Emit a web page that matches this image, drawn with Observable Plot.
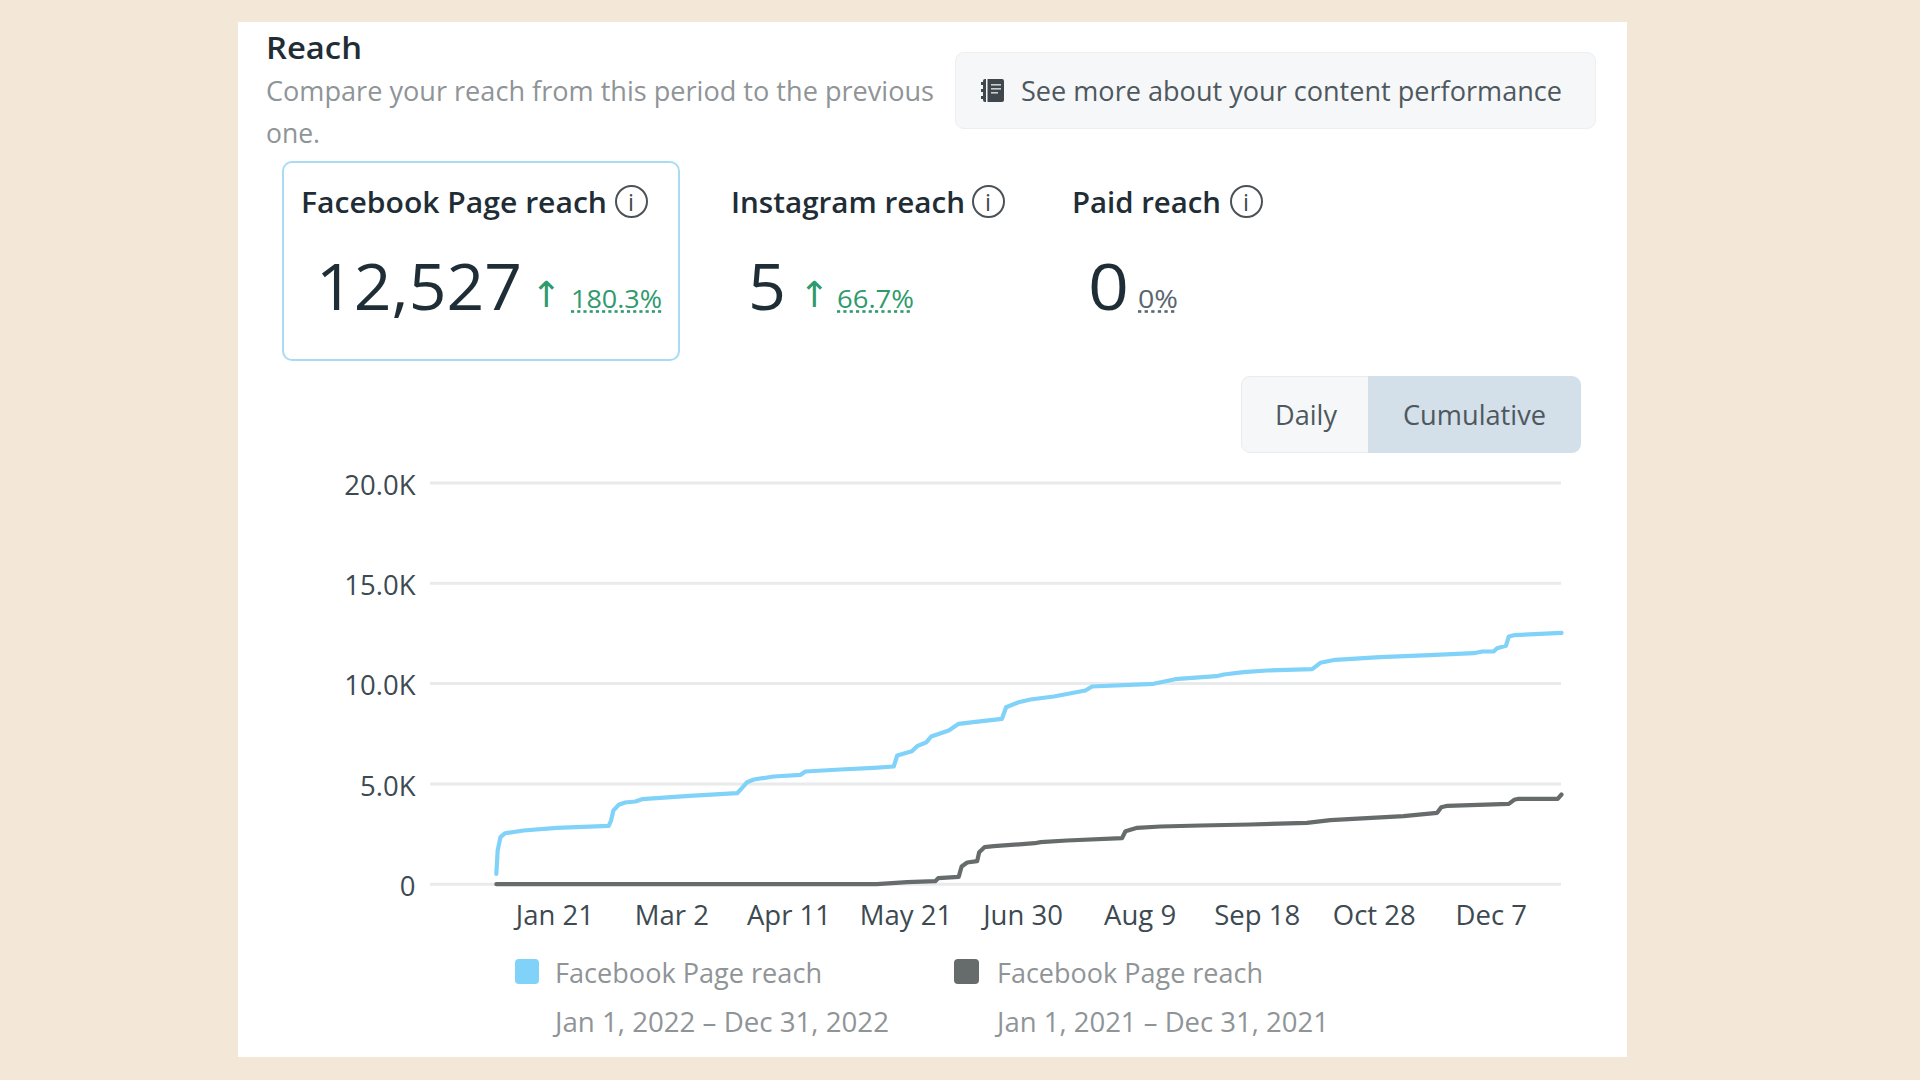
<!DOCTYPE html>
<html>
<head>
<meta charset="utf-8">
<script src="https://cdn.jsdelivr.net/npm/d3@7"></script>
<script src="https://cdn.jsdelivr.net/npm/@observablehq/plot@0.6"></script>
<style>
html,body{margin:0;padding:0;width:1920px;height:1080px;overflow:hidden;background:#f3e7d8;font-family:"Open Sans",sans-serif;}
#card{position:absolute;left:238px;top:22px;width:1389px;height:1035px;background:#fff;}
.box{position:absolute;box-sizing:border-box;}
.t{position:absolute;white-space:nowrap;transform-origin:left center;line-height:1;}
#chart{position:absolute;left:238px;top:460px;}
#chart svg{display:block;background:transparent;}
</style>
</head>
<body>
<div id="card"></div>
<div id="root"></div>
<div id="chart"></div>
<script>
// Day offsets from Jan 1 of each period, with cumulative reach
const currentDays = [0,0.45,1.4,3,9.3,20.7,38.4,39.2,40,41.8,44,47.5,49.8,66,82.3,84,85.7,88,94.8,104,105.6,117.6,129,135.8,137,142,143.8,147,148.6,154.6,158,163,172.8,174.2,178.5,182.5,190.5,201.3,203.6,224.6,232,246,248.6,255.4,263.4,278.8,281.6,286.7,302,319,334,336.9,340.8,342,345,346,347.8,364];
const currentReach = [518,1680,2343,2542,2677,2811,2911,3175,3674,3958,4072,4122,4237,4407,4536,4800,5085,5219,5369,5453,5618,5718,5803,5868,6416,6630,6880,7079,7363,7662,7996,8076,8245,8823,9073,9207,9357,9656,9855,9990,10219,10369,10454,10569,10653,10718,11037,11186,11316,11416,11515,11600,11600,11765,11885,12348,12413,12527];
const previousDays = [0,130,140.4,150,151,158,159,160.9,164.3,165,166.8,170,184,186,195,213.8,215,219,227,240.6,257.7,277,285,310,321.5,322.9,325,346,347.8,349.4,362.7,364];
const previousReach = [0,0,100,150,300,365,882,1082,1147,1595,1844,1894,2044,2094,2178,2293,2642,2812,2876,2926,2976,3060,3190,3390,3559,3838,3908,4008,4207,4257,4257,4472];
const xTickDates = ["2022-01-21","2022-03-02","2022-04-11","2022-05-21","2022-06-30","2022-08-09","2022-09-18","2022-10-28","2022-12-07"];
const yTickValues = [0,5000,10000,15000,20000];
const seriesNames = ["Facebook Page reach","Facebook Page reach"];
const seriesPeriods = ["Jan 1, 2022 – Dec 31, 2022","Jan 1, 2021 – Dec 31, 2021"];
const blue = "#80d2f9", gray = "#666b6c";

const jan1 = Date.UTC(2022,0,1), DAY = 864e5;
const toDate = d => new Date(jan1 + d*DAY);
const rows = (days, vals) => days.map((d,i)=>({date:toDate(d), reach:vals[i]}));

const root = document.getElementById("root");
const FONT = '"Open Sans",sans-serif';
// place text by left edge and vertical centre, squeezing to the measured width of the reference
function text(str,x,cy,size,color,width,opts={}){
  const s=document.createElement("div");
  s.className="t"; s.textContent=str;
  Object.assign(s.style,{left:x+"px",top:(cy-1-size/2)+"px",fontSize:size+"px",color,fontWeight:opts.weight||400,fontFamily:opts.font||FONT});
  if(opts.dotted){s.style.textDecoration="underline dotted";s.style.textUnderlineOffset="2px";}
  root.appendChild(s);
  if(width){const w=s.getBoundingClientRect().width; s.style.transform=`scaleX(${width/w})`;}
  return s;
}
function box(x,y,w,h,bg,border,radius){
  const b=document.createElement("div"); b.className="box";
  Object.assign(b.style,{left:x+"px",top:y+"px",width:w+"px",height:h+"px",background:bg,border:border||"none",borderRadius:radius});
  root.appendChild(b); return b;
}
function info(cx,cy){
  box(cx-16,cy-16,33,33,"#fff","2px solid #4b5257","50%");
  text("i",cx-3,cy+2,23,"#3f474c",6);
}

const dark="#1f2d36", mute="#8f9497", green="#2f9a6d", body="#3d4a52";
text("Reach",266,49,30,dark,96,{weight:600});
text("Compare your reach from this period to the previous",266,91,28,mute,668);
text("one.",266,133,28,mute,54);

box(954.5,51.5,641,77,"#f6f7f8","1.5px solid #eceef0","9px");
const ns="http://www.w3.org/2000/svg";
const ic=document.createElementNS(ns,"svg");
ic.setAttribute("width",24);ic.setAttribute("height",26);
Object.assign(ic.style,{position:"absolute",left:"981px",top:"78px"});
ic.innerHTML='<rect x="2" y="1" width="21" height="23" rx="2" fill="#40474c"/><rect x="0" y="4" width="4" height="3" fill="#40474c"/><rect x="0" y="11" width="4" height="3" fill="#40474c"/><rect x="0" y="18" width="4" height="3" fill="#40474c"/><rect x="5" y="1" width="1.5" height="23" fill="#f6f7f8"/><rect x="10" y="6" width="10" height="1.6" fill="#c9cdd0"/><rect x="10" y="10" width="10" height="1.6" fill="#c9cdd0"/><rect x="10" y="14" width="7" height="1.6" fill="#c9cdd0"/>';
root.appendChild(ic);
text("See more about your content performance",1021,91,28,"#4e585e",541);

box(281.5,161,398.5,200,"#fff","2px solid #a9dcf3","10px");
text("Facebook Page reach",301,203,28,dark,306,{weight:600});
info(631,201);
text("12,527",316,287,64,dark,206);
text("↑",531,296,36,green,null,{font:"DejaVu Sans"});
text("180.3%",571,299,26,green,91,{dotted:true});

text("Instagram reach",730.5,203,28,dark,234,{weight:600});
info(988,201);
text("5",748,287,64,dark,38);
text("↑",799,296,36,green,null,{font:"DejaVu Sans"});
text("66.7%",837,299,26,green,77,{dotted:true});

text("Paid reach",1071.5,203,28,dark,149,{weight:600});
info(1246,201);
text("0",1088,287,64,dark,41);
text("0%",1138,299,26,"#5a666d",40,{dotted:true});

box(1240.5,376,128,77,"#f6f7f8","1.5px solid #e9ebee","9px 0 0 9px");
box(1368,376,212.5,77,"#d3dfe9",null,"0 9px 9px 0");
text("Daily",1275,415,28,"#4e585e",62);
text("Cumulative",1403,415,28,"#4e585e",143);

// legend
box(515,959,24,25,blue,null,"4px");
text(seriesNames[0],555,973,28,mute,267);
text(seriesPeriods[0],555,1022,28,mute,334);
box(954,959,25,25,gray,null,"4px");
text(seriesNames[1],997,973,28,mute,266);
text(seriesPeriods[1],997,1022,28,mute,332);

const chart = Plot.plot({
  width:1389, height:490,
  marginLeft:192, marginRight:66, marginTop:22.5, marginBottom:66.3,
  style:{fontFamily:FONT, fontSize:"27.5px", background:"transparent", overflow:"visible"},
  x:{type:"utc", domain:[toDate(-22.5), toDate(364)]},
  y:{domain:[0,20000]},
  marks:[
    Plot.ruleY(yTickValues,{stroke:"#e9eaeb",strokeWidth:3}),
    Plot.axisY({ticks:yTickValues,tickSize:0,tickPadding:15,label:null,fill:body,
      tickFormat:d=>d===0?"0":(d/1000).toFixed(1)+"K",dy:3}),
    Plot.axisX({ticks:xTickDates.map(d=>new Date(d+"T00:00:00Z")),tickSize:0,tickPadding:21,label:null,fill:body,
      tickFormat:d3.utcFormat("%b %-d")}),
    Plot.line(rows(currentDays,currentReach),{x:"date",y:"reach",stroke:blue,strokeWidth:4.2,strokeLinejoin:"round",strokeLinecap:"round"}),
    Plot.line(rows(previousDays,previousReach),{x:"date",y:"reach",stroke:gray,strokeWidth:4.2,strokeLinejoin:"round",strokeLinecap:"round"})
  ]
});
document.getElementById("chart").appendChild(chart);
</script>
</body>
</html>
